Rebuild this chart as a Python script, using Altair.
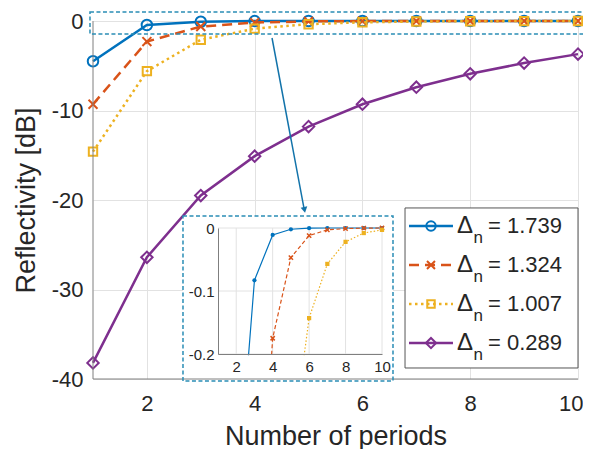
import altair as alt
import pandas as pd

# ---------------- data ----------------
periods = [1, 2, 3, 4, 5, 6, 7, 8, 9, 10]
refl_1739 = [-4.5, -0.45, -0.083, -0.011, -0.002, -0.0003, 0.0, 0.0, 0.0, 0.0]
refl_1324 = [-9.3, -2.3, -0.62, -0.175, -0.047, -0.012, -0.003, -0.001, -0.0002, 0.0]
refl_1007 = [-14.6, -5.6, -2.1, -0.85, -0.36, -0.143, -0.057, -0.022, -0.008, -0.003]
refl_0289 = [-38.2, -26.4, -19.5, -15.1, -11.8, -9.3, -7.4, -5.9, -4.7, -3.7]
delta_values = ["1.739", "1.324", "1.007", "0.289"]

x_ticks = [2, 4, 6, 8, 10]
y_ticks = [-40, -30, -20, -10, 0]
inset_x_ticks = [2, 4, 6, 8, 10]
inset_y_ticks = [-0.2, -0.1, 0.0]

# ---------------- annotation geometry (main-axis data units) ----------------
zoom_box = {"x": 0.944, "x2": 10.204, "y": 1.0, "y2": -1.45}
inset_box = {"x": 2.67, "x2": 6.567, "y": -21.79, "y2": -40.22}
inset_cover = {"x": 2.67, "x2": 6.567, "y": -37.35, "y2": -40.22}
arrow = {"x": 4.322, "y": -1.9, "x2": 4.915, "y2": -20.9}
arrow_head = {"x": 4.925, "y": -21.1}
legend_box = {"x": 6.79, "x2": 10.0, "y": -20.89, "y2": -38.77}
legend_rows = [-22.9, -27.26, -31.62, -35.98]
legend_line_x = [6.864, 7.68]
legend_marker_x = 7.272
legend_delta_x = 7.755
legend_sub_x = 8.06
legend_eq_x = 8.33

# ---------------- styles ----------------
FONT = "Liberation Sans"
TXT = "#262626"
AXC = "#7f7f7f"
GRID = "#e2e2e2"
BOXC = "#2a8db5"
ARROWC = "#1273aa"
colors = ["#0072BD", "#D95319", "#EDB120", "#7E2F8E"]
dashes = [None, [10, 6], [2.5, 3.5], None]
XPATH = "M-1,-1L1,1M-1,1L1,-1"
shapes = ["circle", XPATH, "square", "diamond"]
sizes = [110, 80, 70, 130]
inset_dashes = [None, [4, 2.5], [1.5, 2], None]
inset_shapes = ["circle", XPATH, "square"]

series_vals = [refl_1739, refl_1324, refl_1007, refl_0289]
frames = [pd.DataFrame({"periods": periods, "R": v}) for v in series_vals]

X_MAIN = alt.Scale(domain=[1, 10], nice=False, zero=False)
Y_MAIN = alt.Scale(domain=[-40, 0], nice=False, zero=False)

x_axis = alt.Axis(values=x_ticks, title="Number of periods", grid=True, gridColor=GRID,
                  domain=False, ticks=False, labelFont=FONT, labelFontSize=22, labelColor=TXT,
                  labelPadding=14, labelFlush=True, labelFlushOffset=5, titleFont=FONT,
                  titleFontSize=27, titleFontWeight="normal", titleColor=TXT, titlePadding=9)
y_axis = alt.Axis(values=y_ticks, title="Reflectivity [dB]", grid=True, gridColor=GRID,
                  domain=False, ticks=False, labelFont=FONT, labelFontSize=22, labelColor=TXT,
                  labelPadding=10, labelFlush=False,
                  labelExpr="replace(datum.label, '\u2212', '-')",
                  titleFont=FONT, titleFontSize=27, titleFontWeight="normal",
                  titleColor=TXT, titlePadding=11)

# ---------------- main plot ----------------
main_parts = []
for i in range(4):
    base = alt.Chart(frames[i]).encode(
        x=alt.X("periods:Q", scale=X_MAIN, axis=x_axis),
        y=alt.Y("R:Q", scale=Y_MAIN, axis=y_axis),
    )
    lk = dict(color=colors[i], strokeWidth=2.5)
    if dashes[i]:
        lk["strokeDash"] = dashes[i]
    main_parts.append(base.mark_line(**lk))
    main_parts.append(base.mark_point(shape=shapes[i], size=sizes[i], color=colors[i],
                                      filled=False, strokeWidth=2, opacity=1))
main = alt.layer(*main_parts)


def xd(f):
    return alt.X(f, scale=X_MAIN, axis=None)


def yd(f):
    return alt.Y(f, scale=Y_MAIN, axis=None)


deco_bg = alt.Chart(pd.DataFrame([inset_box])).mark_rect(fill="white", strokeWidth=0).encode(
    x=xd("x:Q"), x2="x2:Q", y=yd("y:Q"), y2="y2:Q")

# ---------------- inset ----------------
X_IN = alt.Scale(domain=[1, 10], range=[125, 289], nice=False, zero=False)
Y_IN = alt.Scale(domain=[-0.2, 0], range=[333, 207], nice=False, zero=False)
ix_axis = alt.Axis(orient="bottom", offset=-25, values=inset_x_ticks, grid=False, ticks=False,
                   title=None, domainColor=AXC, labelFont=FONT, labelFontSize=15, labelColor=TXT,
                   labelPadding=5, labelFlush=False, zindex=1)
iy_axis = alt.Axis(orient="left", offset=-125, values=inset_y_ticks, grid=False, ticks=False,
                   title=None, domainColor=AXC, labelFont=FONT, labelFontSize=15, labelColor=TXT,
                   labelPadding=4, labelFlush=False, zindex=1,
                   labelExpr="datum.value == 0 ? '0' : replace(format(datum.value, '.1f'), '\u2212', '-')")

ig_v = alt.Chart(pd.DataFrame({"gx": inset_x_ticks, "lo": -0.2, "hi": 0.0})).mark_rule(
    color=GRID, strokeWidth=1).encode(
    x=alt.X("gx:Q", scale=X_IN, axis=ix_axis), y=alt.Y("lo:Q", scale=Y_IN, axis=iy_axis), y2="hi:Q")
ig_h = alt.Chart(pd.DataFrame({"gy": inset_y_ticks, "lo": 1, "hi": 10})).mark_rule(
    color=GRID, strokeWidth=1).encode(
    y=alt.Y("gy:Q", scale=Y_IN, axis=iy_axis), x=alt.X("lo:Q", scale=X_IN, axis=ix_axis), x2="hi:Q")

inset_parts = [ig_v, ig_h]
for i in range(3):
    base = alt.Chart(frames[i]).encode(
        x=alt.X("periods:Q", scale=X_IN, axis=ix_axis),
        y=alt.Y("R:Q", scale=Y_IN, axis=iy_axis),
    )
    lk = dict(color=colors[i], strokeWidth=1.2, clip=True)
    if inset_dashes[i]:
        lk["strokeDash"] = inset_dashes[i]
    inset_parts.append(base.mark_line(**lk))
    if inset_shapes[i] == XPATH:
        inset_parts.append(base.mark_point(shape=XPATH, size=18, color=colors[i], filled=False,
                                           strokeWidth=1.5, opacity=1, clip=True))
    else:
        inset_parts.append(base.mark_point(shape=inset_shapes[i], size=18, color=colors[i],
                                           filled=True, opacity=1, clip=True))
inset = alt.layer(*inset_parts)

deco_cover = alt.Chart(pd.DataFrame([inset_cover])).mark_rect(fill="white", strokeWidth=0).encode(
    x=xd("x:Q"), x2="x2:Q", y=yd("y:Q"), y2="y2:Q")

# ---------------- top decorations ----------------
axis_lines = pd.DataFrame({"x": [1, 1], "x2": [10, 1], "y": [-40, -40], "y2": [-40, 0]})
top_parts = [
    alt.Chart(axis_lines).mark_rule(color=AXC, strokeWidth=1).encode(
        x=xd("x:Q"), x2="x2:Q", y=yd("y:Q"), y2="y2:Q"),
    alt.Chart(pd.DataFrame([inset_box])).mark_rect(fillOpacity=0, stroke=BOXC, strokeWidth=1.5,
                                                   strokeDash=[4, 2.5]).encode(
        x=xd("x:Q"), x2="x2:Q", y=yd("y:Q"), y2="y2:Q"),
    alt.Chart(pd.DataFrame([zoom_box])).mark_rect(fillOpacity=0, stroke=BOXC, strokeWidth=1.5,
                                                  strokeDash=[4, 2.5]).encode(
        x=xd("x:Q"), x2="x2:Q", y=yd("y:Q"), y2="y2:Q"),
    alt.Chart(pd.DataFrame([arrow])).mark_rule(color=ARROWC, strokeWidth=1.5).encode(
        x=xd("x:Q"), x2="x2:Q", y=yd("y:Q"), y2="y2:Q"),
    alt.Chart(pd.DataFrame([arrow_head])).mark_point(shape="triangle-down", filled=True, size=45,
                                                     angle=349, color=ARROWC, opacity=1).encode(
        x=xd("x:Q"), y=yd("y:Q")),
    alt.Chart(pd.DataFrame([legend_box])).mark_rect(fill="white", stroke="#555555", strokeWidth=1).encode(
        x=xd("x:Q"), x2="x2:Q", y=yd("y:Q"), y2="y2:Q"),
]
for i in range(4):
    row = pd.DataFrame({"x": [legend_line_x[0]], "x2": [legend_line_x[1]], "y": [legend_rows[i]],
                        "mx": [legend_marker_x], "dx": [legend_delta_x], "sx": [legend_sub_x],
                        "ex": [legend_eq_x], "eq": ["= " + delta_values[i]],
                        "d": ["\u0394"], "n": ["n"]})
    lk = dict(color=colors[i], strokeWidth=2.5)
    if dashes[i]:
        lk["strokeDash"] = dashes[i]
    top_parts.append(alt.Chart(row).mark_rule(**lk).encode(x=xd("x:Q"), x2="x2:Q", y=yd("y:Q")))
    top_parts.append(alt.Chart(row).mark_point(shape=shapes[i], size=sizes[i] * 0.8, color=colors[i],
                                               filled=False, strokeWidth=2, opacity=1).encode(
        x=xd("mx:Q"), y=yd("y:Q")))
    top_parts.append(alt.Chart(row).mark_text(font=FONT, fontSize=24, color=TXT, align="left",
                                              baseline="middle").encode(
        x=xd("dx:Q"), y=yd("y:Q"), text="d:N"))
    top_parts.append(alt.Chart(row).mark_text(font=FONT, fontSize=17, color=TXT, align="left",
                                              baseline="middle", dy=12).encode(
        x=xd("sx:Q"), y=yd("y:Q"), text="n:N"))
    top_parts.append(alt.Chart(row).mark_text(font=FONT, fontSize=22, color=TXT, align="left",
                                              baseline="middle").encode(
        x=xd("ex:Q"), y=yd("y:Q"), text="eq:N"))
deco_top = alt.layer(*top_parts)

chart = alt.layer(main, deco_bg, inset, deco_cover, deco_top).resolve_scale(
    x="independent", y="independent"
).properties(
    width=485, height=358,
    padding={"left": 85, "top": 13, "right": 5, "bottom": 70},
    autosize=alt.AutoSizeParams(type="none"),
    background="white",
).configure_view(strokeWidth=0)

chart.save("out.html", embed_options={"renderer": "svg", "actions": False})
